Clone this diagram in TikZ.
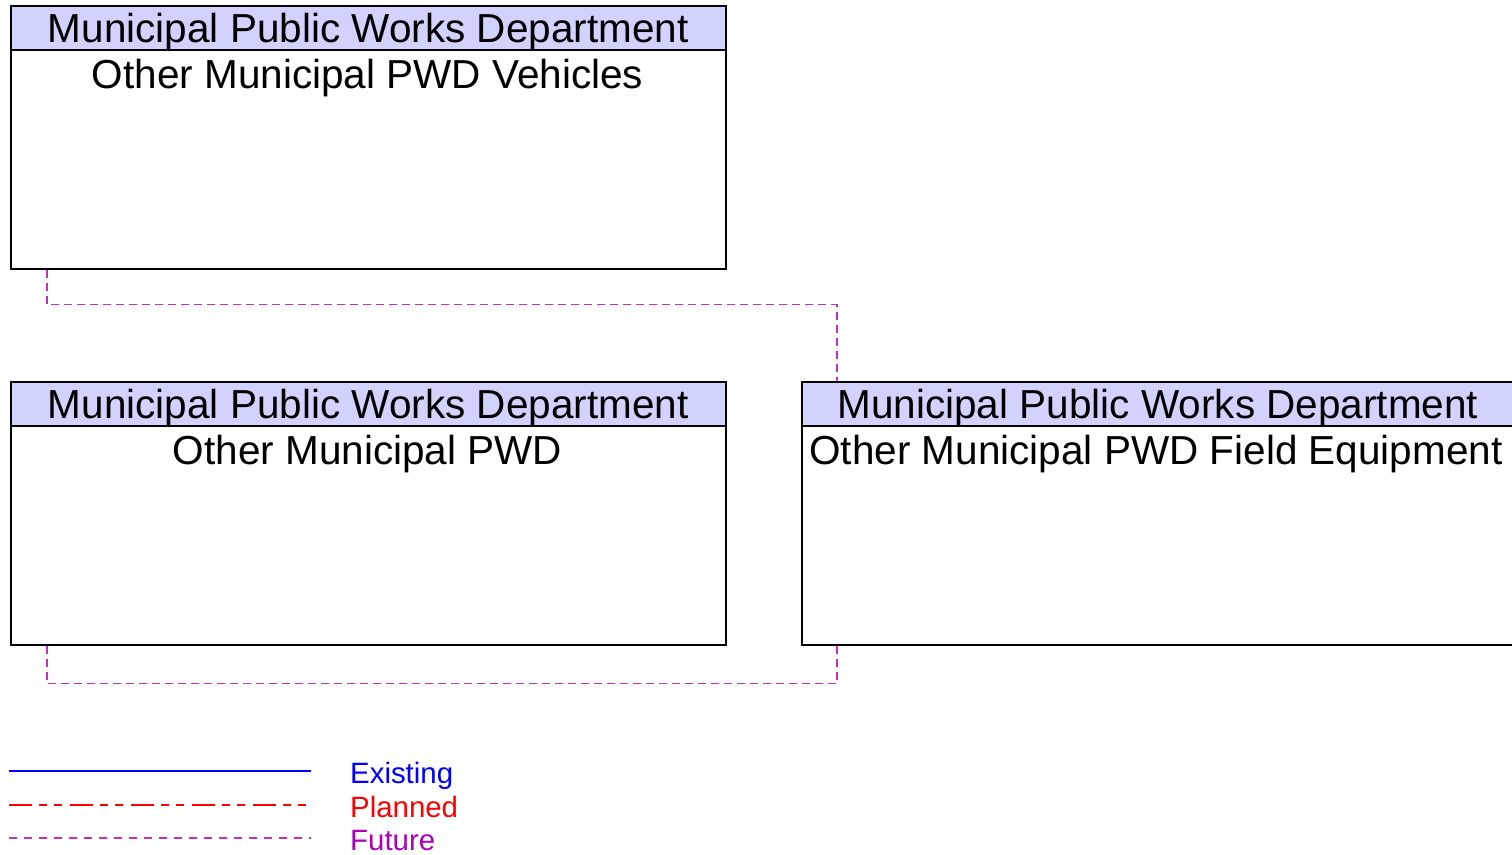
\documentclass[tikz,border=0pt]{standalone}
\usepackage{fontspec}
\setmainfont{Liberation Sans}
\usetikzlibrary{positioning}
\definecolor{HeadFill}{HTML}{D2D2FF}
\definecolor{FutureLine}{HTML}{C42EC4}
\definecolor{FutureText}{HTML}{AA00BB}
\definecolor{PlanRed}{HTML}{FF0000}
\definecolor{ExistBlue}{HTML}{0000FF}

\begin{document}
\begin{tikzpicture}[x=1pt,y=-1pt]
    \tikzset{entitybox/.style={draw=black,line width=1.6pt,fill=white,anchor=north west,minimum width=715pt,minimum height=263pt,inner sep=0pt},
      headbox/.style={draw=black,line width=1.6pt,fill=HeadFill,anchor=north west,minimum width=715pt,minimum height=44pt,inner sep=0pt,text height=29pt,text depth=0pt,font=\fontsize{40.5}{44}\selectfont},
      boxtext/.style={anchor=base,inner sep=0pt,font=\fontsize{40.5}{44}\selectfont},
      futureflow/.style={draw=FutureLine,line width=1.4pt,dash pattern=on 8pt off 5pt},
      legendtext/.style={anchor=base west,inner sep=0pt,font=\fontsize{29.4}{32}\selectfont}}
    \useasboundingbox (0,0) rectangle (1512,854);
    % entity boxes
    \node[entitybox] (vehbox) at (10,5) {};
    \node[headbox] (vehhead) at (vehbox.north west) {Municipal Public Works Department};
    \node[boxtext] (vehname) at (367.5,88) {Other Municipal PWD Vehicles};
    \node[entitybox] (pwdbox) at (10,381) {};
    \node[headbox] (pwdhead) at (pwdbox.north west) {Municipal Public Works Department};
    \node[boxtext] (pwdname) at (367.5,464) {Other Municipal PWD};
    \node[entitybox,minimum width=714pt] (fieldbox) at (801,381) {};
    \node[headbox,minimum width=712pt] (fieldhead) at (fieldbox.north west) {Municipal Public Works Department};
    \node[boxtext] (fieldname) at (1156,464) {Other Municipal PWD Field Equipment};
    % flows
    \draw[futureflow] ([xshift=37pt]vehbox.south west) -- ++(0,35) -| ([xshift=36pt]fieldbox.north west);
    \draw[futureflow] ([xshift=37pt]pwdbox.south west) -- ++(0,38) -| ([xshift=36pt]fieldbox.south west);
    % legend
    \coordinate (exA) at (9,771);
    \coordinate (exB) at (311,771);
    \coordinate (plA) at (9,805);
    \coordinate (plB) at (311,805);
    \coordinate (fuA) at (9,838);
    \coordinate (fuB) at (311,838);
    \draw[draw=ExistBlue,line width=2.4pt] (exA) -- (exB);
    \draw[draw=PlanRed,line width=1.5pt,dash pattern=on 23pt off 7pt on 8pt off 7pt on 8pt off 8pt] (plA) -- (plB);
    \draw[draw=FutureLine,line width=1.5pt,dash pattern=on 8pt off 7pt] (fuA) -- (fuB);
    \node[legendtext,text=ExistBlue] (exlabel) at (350,783) {Existing};
    \node[legendtext,text=PlanRed] (pllabel) at (350,817) {Planned};
    \node[legendtext,text=FutureText] (fulabel) at (350,850) {Future};
\end{tikzpicture}
\end{document}
